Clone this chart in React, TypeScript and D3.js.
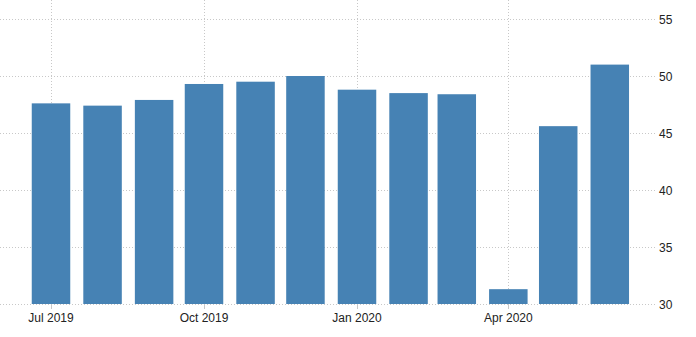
import React from "react";
import * as d3 from "d3";

const months: string[] = [
  "2019-07", "2019-08", "2019-09", "2019-10", "2019-11", "2019-12",
  "2020-01", "2020-02", "2020-03", "2020-04", "2020-05", "2020-06",
];
const values: number[] = [47.6, 47.4, 47.9, 49.3, 49.5, 50.0, 48.8, 48.5, 48.4, 31.3, 45.6, 51.0];
const yTicks: number[] = [30, 35, 40, 45, 50, 55];
const xTickMonths: string[] = ["2019-07", "2019-10", "2020-01", "2020-04"];
const xTickLabels: string[] = ["Jul 2019", "Oct 2019", "Jan 2020", "Apr 2020"];

const W = 696;
const H = 337;
const plotRight = 655;
const parse = (m: string) => {
  const [y, mo] = m.split("-").map(Number);
  return new Date(Date.UTC(y, mo - 1, 1));
};

export default function App() {
  const x = d3
    .scaleUtc()
    .domain([parse("2019-07"), parse("2019-10")])
    .range([51, 204]);
  const y = d3.scaleLinear().domain([30, 55]).range([304, 19]);
  const barW = 38.5;
  const font = "'Liberation Sans', Arial, sans-serif";
  return (
    <svg
      width={W}
      height={H}
      style={{ position: "absolute", left: 0, top: 0, background: "#fff" }}
    >
      {yTicks.map((t) => (
        <line
          key={"gy" + t}
          x1={0}
          x2={plotRight}
          y1={Math.round(y(t)) + 0.5}
          y2={Math.round(y(t)) + 0.5}
          stroke="#c8c8c8"
          strokeDasharray="1,2"
        />
      ))}
      {xTickMonths.map((m) => (
        <line
          key={"gx" + m}
          x1={Math.round(x(parse(m))) + 0.5}
          x2={Math.round(x(parse(m))) + 0.5}
          y1={0}
          y2={y(30)}
          stroke="#c8c8c8"
          strokeDasharray="1,2"
        />
      ))}
      {months.map((m, i) => (
        <rect
          key={m}
          x={x(parse(m)) - barW / 2}
          y={y(values[i])}
          width={barW}
          height={y(30) - y(values[i])}
          fill="#4682b4"
        />
      ))}
      {xTickMonths.map((m, i) => (
        <g key={"xt" + m}>
          <line
            x1={Math.round(x(parse(m))) + 0.5}
            x2={Math.round(x(parse(m))) + 0.5}
            y1={y(30)}
            y2={y(30) + 5}
            stroke="#c8c8c8"
          />
          <text
            x={x(parse(m))}
            y={322}
            textAnchor="middle"
            fontFamily={font}
            fontSize={12}
            fill="#222"
          >
            {xTickLabels[i]}
          </text>
        </g>
      ))}
      {yTicks.map((t) => (
        <text
          key={"yt" + t}
          x={659}
          y={y(t) + 4.5}
          fontFamily={font}
          fontSize={12}
          fill="#222"
        >
          {t}
        </text>
      ))}
    </svg>
  );
}
